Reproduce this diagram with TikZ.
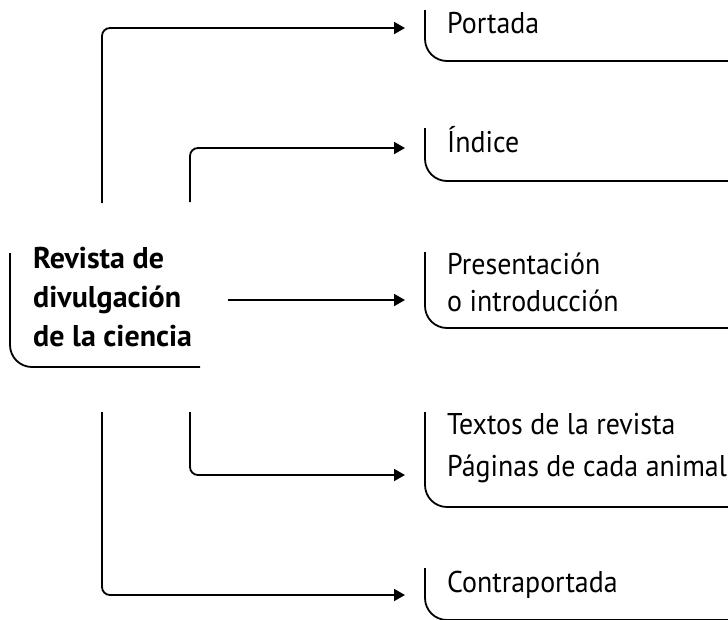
\documentclass[tikz,border=0pt]{standalone}
\usepackage{fontspec}
\setmainfont{PT Sans}
\newfontfamily\itemfont[FakeStretch=0.93]{PT Sans}
\usetikzlibrary{positioning, arrows.meta}

\begin{document}
\begin{tikzpicture}[x=1pt, y=-1pt,
    conn/.style={line width=1.8pt, rounded corners=8pt, -{Triangle[length=11pt,width=12pt]}},
    bracket/.style={line width=1.8pt, rounded corners=22pt},
    item/.style={anchor=base west, inner sep=0pt, align=left, font=\itemfont\fontsize{30}{36}\selectfont},
    title/.style={item, font=\fontsize{30}{39}\selectfont\bfseries}]
    \useasboundingbox (0,0) rectangle (728,619);
    % main node
    \node[title, anchor=north west] (rev) at (33,247) {Revista de\\divulgación\\de la ciencia};
    \draw[bracket] (10,253) -- (10,367) -- (200,367);
    % right-hand items
    \node[item] (port) at (447,33) {Portada};
    \node[item] (indi) at (447,152) {Índice};
    \node[item, anchor=north west, font=\itemfont\fontsize{30}{37}\selectfont] (pres) at (447,253) {Presentación\\o introducción};
    \node[item, anchor=north west, font=\itemfont\fontsize{30}{42}\selectfont] (text) at (447,413) {Textos de la revista\\Páginas de cada animal};
    \node[item] (contra) at (447,592) {Contraportada};
    \foreach \top/\bot in {10/61, 128/181, 252/328, 412/507, 568/620}
    {
    \draw[bracket] (425,\top) -- (425,\bot) -- (728,\bot);
    }
    % connectors
    \coordinate (s1) at (102,203);
    \coordinate (s2) at (190,202);
    \coordinate (s3) at (228,300);
    \coordinate (s4) at (190,412);
    \coordinate (s5) at (102,412);
    \coordinate (t1) at (405,28);
    \coordinate (t2) at (405,148);
    \coordinate (t3) at (405,300);
    \coordinate (t4) at (405,475);
    \coordinate (t5) at (405,595);
    \draw[conn] (s1) |- (t1);
    \draw[conn] (s2) |- (t2);
    \draw[conn] (s3) -- (t3);
    \draw[conn] (s4) |- (t4);
    \draw[conn] (s5) |- (t5);
\end{tikzpicture}
\end{document}
